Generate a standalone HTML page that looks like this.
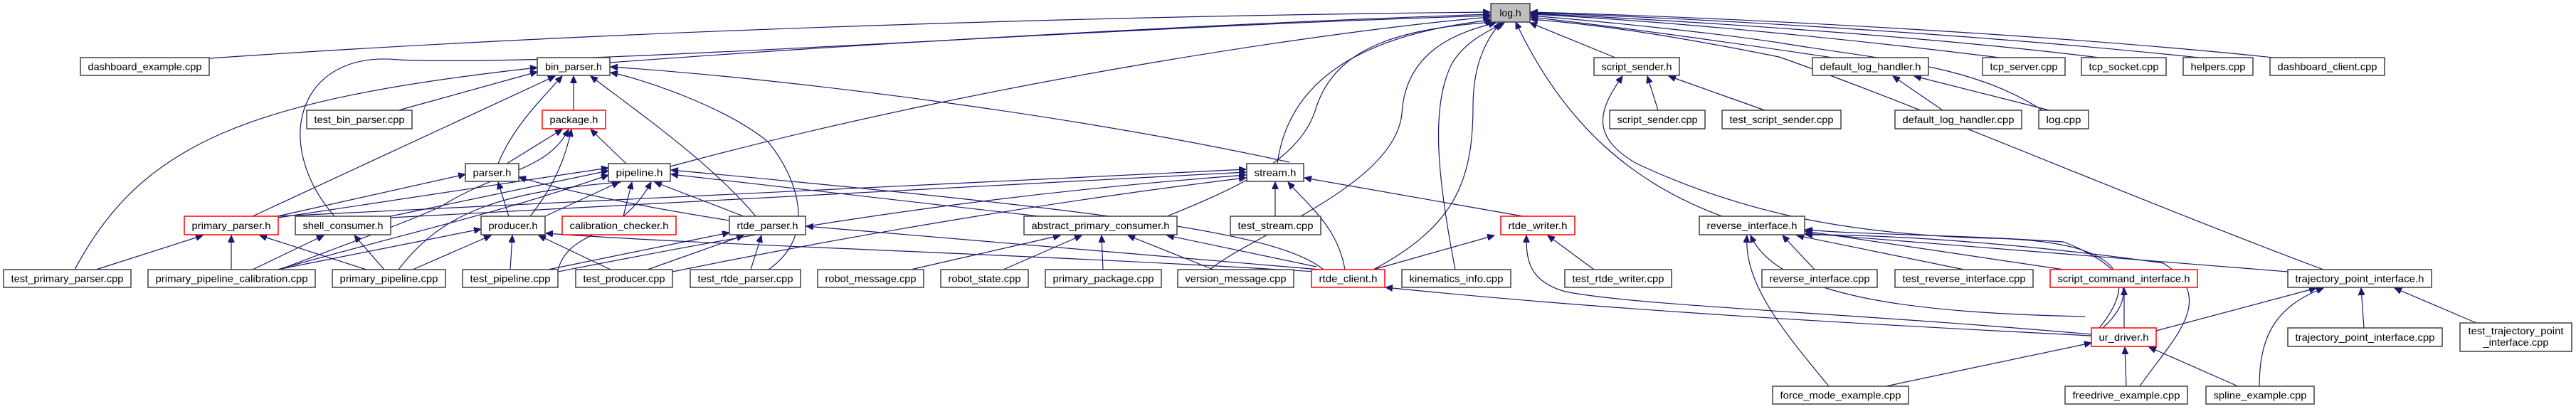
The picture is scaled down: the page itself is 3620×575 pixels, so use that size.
<!DOCTYPE html>
<html><head><meta charset="utf-8">
<style>
html,body{margin:0;padding:0;background:#fff;}
svg{display:block;}
.n rect{fill:#fff;stroke:#404040;stroke-width:1.5;}
.n.r rect{stroke:#ff0000;}
.n.g rect{fill:#bfbfbf;}
text{font-family:"Liberation Sans",sans-serif;font-size:14px;fill:#000;}
.e path{fill:none;stroke:#191970;stroke-width:1.2;}
</style></head>
<body>
<svg width="3620" height="575" viewBox="0 0 3620 575" xmlns="http://www.w3.org/2000/svg">
<defs>
<marker id="a" markerUnits="userSpaceOnUse" markerWidth="11" markerHeight="9" refX="10" refY="4.5" orient="auto">
<path d="M0,0 L10,4.5 L0,9 z" fill="#191970" stroke="#191970"/>
</marker>
</defs>
<g class="e" marker-end="url(#a)">
<!-- to log.h -->
<path d="M294,82 C900,40 1600,22 2094,17" marker-end="url(#a)"/>
<path d="M857,88 C1300,55 1800,30 2094,20" marker-end="url(#a)"/>
<path d="M942,234 C1400,110 1900,40 2094,24" marker-end="url(#a)"/>
<path d="M470,304 C380,200 420,70 560,84 C800,95 1500,40 2094,22" marker-end="url(#a)"/>
<path d="M1795,230 C1810,120 1900,50 2096,28" marker-end="url(#a)"/>
<path d="M1640,304 C1750,260 1830,220 1850,150 C1880,60 1980,40 2098,31" marker-end="url(#a)"/>
<path d="M1700,379 C1760,330 1960,260 1970,160 C1975,70 2050,45 2102,32" marker-end="url(#a)"/>
<path d="M1930,379 C2040,320 2070,260 2070,150 C2070,80 2095,50 2108,32" marker-end="url(#a)"/>
<path d="M2045,379 C2020,250 2010,150 2040,90 C2060,55 2100,40 2114,32" marker-end="url(#a)"/>
<path d="M2420,304 C2300,260 2200,180 2130,31" marker-end="url(#a)"/>
<path d="M2270,81 L2150,32" marker-end="url(#a)"/>
<path d="M2575,81 C2400,55 2250,35 2151,24" marker-end="url(#a)"/>
<path d="M2870,155 C2770,90 2650,85 2500,60 C2400,45 2250,30 2151,22" marker-end="url(#a)"/>
<path d="M2810,81 C2600,55 2350,30 2151,20" marker-end="url(#a)"/>
<path d="M2950,81 C2700,50 2350,28 2151,19" marker-end="url(#a)"/>
<path d="M3090,81 C2800,50 2400,26 2151,18" marker-end="url(#a)"/>
<path d="M3195,81 C2900,50 2450,25 2151,17" marker-end="url(#a)"/>
<path d="M3265,379 C3000,280 2700,150 2500,80 C2350,50 2250,35 2151,27" marker-end="url(#a)"/>
<!-- to bin_parser.h -->
<path d="M560,155 L755,101"/>
<path d="M806,155 L806,107"/>
<path d="M700,230 C720,180 760,140 790,107"/>
<path d="M355,304 L780,107"/>
<path d="M105,379 C200,200 350,140 755,95"/>
<path d="M1062,304 C1000,230 900,160 830,107"/>
<path d="M1080,379 C1150,330 1120,250 1080,200 C1020,150 900,110 858,102"/>
<path d="M1812,228 C1500,160 1100,110 858,94"/>
<!-- to package.h -->
<path d="M712,230 L790,182"/>
<path d="M880,230 L830,182"/>
<path d="M745,304 C780,260 795,220 803,182"/>
<path d="M390,380 C550,320 600,300 620,290 C700,240 770,240 799,182"/>
<!-- to parser.h -->
<path d="M390,304 L654,245"/>
<path d="M715,304 L700,256"/>
<path d="M1025,310 C900,290 800,270 729,249"/>
<!-- to pipeline.h -->
<path d="M391,306 L855,236"/>
<path d="M549,304 L855,240"/>
<path d="M766,304 L870,256"/>
<path d="M876,304 L888,256"/>
<path d="M1045,304 L920,256"/>
<path d="M390,379 C600,320 700,300 855,246"/>
<path d="M560,379 C620,300 700,270 872,256"/>
<path d="M784,380 C800,320 870,340 915,256"/>
<path d="M1460,304 L943,245"/>
<path d="M1860,379 C1800,330 1600,300 943,239"/>
<!-- to stream.h -->
<path d="M391,304 L1751,238"/>
<path d="M549,306 L1751,242"/>
<path d="M784,382 C1000,340 1300,280 1751,246"/>
<path d="M945,382 C1200,330 1500,280 1751,250"/>
<path d="M1792,304 L1792,256"/>
<path d="M1890,379 C1880,320 1840,290 1810,256"/>
<path d="M2140,304 L1833,250"/>
<!-- to producer.h -->
<path d="M390,379 L676,322"/>
<path d="M580,379 L690,331"/>
<path d="M717,379 L720,331"/>
<path d="M858,379 L757,331"/>
<path d="M1850,382 C1400,355 1000,345 767,328"/>
<!-- to primary_parser.h -->
<path d="M135,379 L285,331"/>
<path d="M325,379 L325,331"/>
<path d="M515,379 L365,331"/>
<!-- to shell_consumer.h -->
<path d="M355,379 L455,331"/>
<path d="M540,379 L498,331"/>
<!-- to rtde_parser.h -->
<path d="M770,379 L1025,327"/>
<path d="M910,379 L1045,331"/>
<path d="M1055,379 L1070,331"/>
<path d="M1855,379 C1500,350 1300,330 1133,318"/>
<!-- to abstract_primary_consumer.h -->
<path d="M1280,379 L1490,331"/>
<path d="M1410,379 L1520,331"/>
<path d="M1550,379 L1548,331"/>
<path d="M1705,379 L1585,331"/>
<path d="M1850,375 L1640,331"/>
<!-- to rtde_writer.h -->
<path d="M1930,379 L2100,331"/>
<path d="M2240,379 L2175,331"/>
<path d="M2939,470 C2600,440 2300,430 2200,410 C2145,395 2145,360 2145,331"/>
<!-- to rtde_client.h -->
<path d="M2939,472 C2500,450 2200,430 1947,404"/>
<!-- to script_sender.h -->
<path d="M2330,155 L2315,107"/>
<path d="M2480,155 L2345,107"/>
<path d="M2950,461 C3000,400 3000,340 2800,335 C2600,330 2450,300 2300,230 C2230,190 2250,150 2280,107"/>
<!-- to default_log_handler.h -->
<path d="M2730,155 L2660,107"/>
<path d="M2880,155 L2690,107"/>
<!-- to reverse_interface.h -->
<path d="M2550,379 L2505,331"/>
<path d="M2760,379 L2525,331"/>
<path d="M2900,379 L2537,325"/>
<path d="M3215,382 L2537,328"/>
<path d="M2955,461 C3000,420 3000,380 2900,340 C2750,330 2620,330 2537,323"/>
<path d="M2570,543 C2510,470 2450,400 2455,331"/>
<path d="M3007,543 C3050,480 3120,420 3040,370 C2900,350 2700,330 2537,330"/>
<path d="M2930,445 C2700,440 2500,420 2460,331"/>
<!-- to script_command_interface.h -->
<path d="M2985,461 L2985,405"/>
<!-- to trajectory_point_interface.h -->
<path d="M3030,465 L3255,405"/>
<path d="M3322,461 L3318,405"/>
<path d="M3480,454 L3365,405"/>
<path d="M3175,543 C3175,470 3200,430 3265,405"/>
<!-- to ur_driver.h -->
<path d="M2650,543 L2939,482"/>
<path d="M2988,543 L2986,488"/>
<path d="M3145,543 L3020,488"/>
</g>

<g class="n g"><rect x="2095" y="5" width="55" height="26"/><text x="2122.5" y="23" text-anchor="middle">log.h</text></g>

<g class="n"><rect x="113" y="81" width="181" height="25"/><text x="203.5" y="98.5" text-anchor="middle" textLength="160" lengthAdjust="spacingAndGlyphs">dashboard_example.cpp</text></g>
<g class="n"><rect x="755" y="81" width="102" height="25"/><text x="806" y="98.5" text-anchor="middle" textLength="80" lengthAdjust="spacingAndGlyphs">bin_parser.h</text></g>
<g class="n"><rect x="2240" y="81" width="120" height="25"/><text x="2300" y="98.5" text-anchor="middle" textLength="99" lengthAdjust="spacingAndGlyphs">script_sender.h</text></g>
<g class="n"><rect x="2547" y="81" width="163" height="25"/><text x="2628.5" y="98.5" text-anchor="middle" textLength="142" lengthAdjust="spacingAndGlyphs">default_log_handler.h</text></g>
<g class="n"><rect x="2786" y="81" width="116" height="25"/><text x="2844" y="98.5" text-anchor="middle" textLength="95" lengthAdjust="spacingAndGlyphs">tcp_server.cpp</text></g>
<g class="n"><rect x="2925" y="81" width="119" height="25"/><text x="2984.5" y="98.5" text-anchor="middle" textLength="98" lengthAdjust="spacingAndGlyphs">tcp_socket.cpp</text></g>
<g class="n"><rect x="3068" y="81" width="98" height="25"/><text x="3117" y="98.5" text-anchor="middle" textLength="77" lengthAdjust="spacingAndGlyphs">helpers.cpp</text></g>
<g class="n"><rect x="3190" y="81" width="161" height="25"/><text x="3270.5" y="98.5" text-anchor="middle" textLength="140" lengthAdjust="spacingAndGlyphs">dashboard_client.cpp</text></g>

<g class="n"><rect x="431" y="155" width="148" height="26"/><text x="505" y="173" text-anchor="middle" textLength="127" lengthAdjust="spacingAndGlyphs">test_bin_parser.cpp</text></g>
<g class="n r"><rect x="762" y="155" width="89" height="26"/><text x="806.5" y="173" text-anchor="middle" textLength="68" lengthAdjust="spacingAndGlyphs">package.h</text></g>
<g class="n"><rect x="2262" y="155" width="134" height="26"/><text x="2329" y="173" text-anchor="middle" textLength="113" lengthAdjust="spacingAndGlyphs">script_sender.cpp</text></g>
<g class="n"><rect x="2420" y="155" width="167" height="26"/><text x="2503.5" y="173" text-anchor="middle" textLength="146" lengthAdjust="spacingAndGlyphs">test_script_sender.cpp</text></g>
<g class="n"><rect x="2663" y="155" width="178" height="26"/><text x="2752" y="173" text-anchor="middle" textLength="157" lengthAdjust="spacingAndGlyphs">default_log_handler.cpp</text></g>
<g class="n"><rect x="2865" y="155" width="70" height="26"/><text x="2900" y="173" text-anchor="middle" textLength="49" lengthAdjust="spacingAndGlyphs">log.cpp</text></g>

<g class="n"><rect x="654" y="230" width="75" height="25"/><text x="691.5" y="247.5" text-anchor="middle" textLength="54" lengthAdjust="spacingAndGlyphs">parser.h</text></g>
<g class="n"><rect x="855" y="230" width="87" height="25"/><text x="898.5" y="247.5" text-anchor="middle" textLength="66" lengthAdjust="spacingAndGlyphs">pipeline.h</text></g>
<g class="n"><rect x="1752" y="230" width="80" height="25"/><text x="1792" y="247.5" text-anchor="middle" textLength="59" lengthAdjust="spacingAndGlyphs">stream.h</text></g>

<g class="n r"><rect x="259" y="304" width="132" height="26"/><text x="325" y="322" text-anchor="middle" textLength="111" lengthAdjust="spacingAndGlyphs">primary_parser.h</text></g>
<g class="n"><rect x="415" y="304" width="134" height="26"/><text x="482" y="322" text-anchor="middle" textLength="113" lengthAdjust="spacingAndGlyphs">shell_consumer.h</text></g>
<g class="n"><rect x="676" y="304" width="90" height="26"/><text x="721" y="322" text-anchor="middle" textLength="69" lengthAdjust="spacingAndGlyphs">producer.h</text></g>
<g class="n r"><rect x="790" y="304" width="160" height="26"/><text x="870" y="322" text-anchor="middle" textLength="139" lengthAdjust="spacingAndGlyphs">calibration_checker.h</text></g>
<g class="n"><rect x="1025" y="304" width="107" height="26"/><text x="1078.5" y="322" text-anchor="middle" textLength="86" lengthAdjust="spacingAndGlyphs">rtde_parser.h</text></g>
<g class="n"><rect x="1439" y="304" width="215" height="26"/><text x="1546.5" y="322" text-anchor="middle" textLength="194" lengthAdjust="spacingAndGlyphs">abstract_primary_consumer.h</text></g>
<g class="n"><rect x="1729" y="304" width="127" height="26"/><text x="1792.5" y="322" text-anchor="middle" textLength="106" lengthAdjust="spacingAndGlyphs">test_stream.cpp</text></g>
<g class="n r"><rect x="2109" y="304" width="104" height="26"/><text x="2161" y="322" text-anchor="middle" textLength="83" lengthAdjust="spacingAndGlyphs">rtde_writer.h</text></g>
<g class="n"><rect x="2388" y="304" width="148" height="26"/><text x="2462" y="322" text-anchor="middle" textLength="127" lengthAdjust="spacingAndGlyphs">reverse_interface.h</text></g>

<g class="n"><rect x="5" y="379" width="179" height="25"/><text x="94.5" y="396.5" text-anchor="middle" textLength="158" lengthAdjust="spacingAndGlyphs">test_primary_parser.cpp</text></g>
<g class="n"><rect x="208" y="379" width="235" height="25"/><text x="325.5" y="396.5" text-anchor="middle" textLength="214" lengthAdjust="spacingAndGlyphs">primary_pipeline_calibration.cpp</text></g>
<g class="n"><rect x="467" y="379" width="159" height="25"/><text x="546.5" y="396.5" text-anchor="middle" textLength="138" lengthAdjust="spacingAndGlyphs">primary_pipeline.cpp</text></g>
<g class="n"><rect x="650" y="379" width="134" height="25"/><text x="717" y="396.5" text-anchor="middle" textLength="113" lengthAdjust="spacingAndGlyphs">test_pipeline.cpp</text></g>
<g class="n"><rect x="809" y="379" width="136" height="25"/><text x="877" y="396.5" text-anchor="middle" textLength="115" lengthAdjust="spacingAndGlyphs">test_producer.cpp</text></g>
<g class="n"><rect x="970" y="379" width="155" height="25"/><text x="1047.5" y="396.5" text-anchor="middle" textLength="134" lengthAdjust="spacingAndGlyphs">test_rtde_parser.cpp</text></g>
<g class="n"><rect x="1149" y="379" width="149" height="25"/><text x="1223.5" y="396.5" text-anchor="middle" textLength="128" lengthAdjust="spacingAndGlyphs">robot_message.cpp</text></g>
<g class="n"><rect x="1322" y="379" width="123" height="25"/><text x="1383.5" y="396.5" text-anchor="middle" textLength="102" lengthAdjust="spacingAndGlyphs">robot_state.cpp</text></g>
<g class="n"><rect x="1469" y="379" width="163" height="25"/><text x="1550.5" y="396.5" text-anchor="middle" textLength="142" lengthAdjust="spacingAndGlyphs">primary_package.cpp</text></g>
<g class="n"><rect x="1655" y="379" width="163" height="25"/><text x="1736.5" y="396.5" text-anchor="middle" textLength="142" lengthAdjust="spacingAndGlyphs">version_message.cpp</text></g>
<g class="n r"><rect x="1843" y="379" width="103" height="25"/><text x="1894.5" y="396.5" text-anchor="middle" textLength="82" lengthAdjust="spacingAndGlyphs">rtde_client.h</text></g>
<g class="n"><rect x="1970" y="379" width="153" height="25"/><text x="2046.5" y="396.5" text-anchor="middle" textLength="132" lengthAdjust="spacingAndGlyphs">kinematics_info.cpp</text></g>
<g class="n"><rect x="2199" y="379" width="150" height="25"/><text x="2274" y="396.5" text-anchor="middle" textLength="129" lengthAdjust="spacingAndGlyphs">test_rtde_writer.cpp</text></g>
<g class="n"><rect x="2476" y="379" width="162" height="25"/><text x="2557" y="396.5" text-anchor="middle" textLength="141" lengthAdjust="spacingAndGlyphs">reverse_interface.cpp</text></g>
<g class="n"><rect x="2663" y="379" width="194" height="25"/><text x="2760" y="396.5" text-anchor="middle" textLength="173" lengthAdjust="spacingAndGlyphs">test_reverse_interface.cpp</text></g>
<g class="n r"><rect x="2881" y="379" width="207" height="25"/><text x="2984.5" y="396.5" text-anchor="middle" textLength="186" lengthAdjust="spacingAndGlyphs">script_command_interface.h</text></g>
<g class="n"><rect x="3215" y="379" width="202" height="25"/><text x="3316" y="396.5" text-anchor="middle" textLength="181" lengthAdjust="spacingAndGlyphs">trajectory_point_interface.h</text></g>

<g class="n r"><rect x="2939" y="461" width="91" height="26"/><text x="2984.5" y="479" text-anchor="middle" textLength="70" lengthAdjust="spacingAndGlyphs">ur_driver.h</text></g>
<g class="n"><rect x="3215" y="461" width="217" height="26"/><text x="3323.5" y="479" text-anchor="middle" textLength="196" lengthAdjust="spacingAndGlyphs">trajectory_point_interface.cpp</text></g>
<g class="n"><rect x="3457" y="454" width="157" height="40"/><text x="3535.5" y="470" text-anchor="middle" textLength="134" lengthAdjust="spacingAndGlyphs">test_trajectory_point</text><text x="3535.5" y="486" text-anchor="middle" textLength="92" lengthAdjust="spacingAndGlyphs">_interface.cpp</text></g>

<g class="n"><rect x="2491" y="543" width="191" height="25"/><text x="2586.5" y="560.5" text-anchor="middle" textLength="170" lengthAdjust="spacingAndGlyphs">force_mode_example.cpp</text></g>
<g class="n"><rect x="2902" y="543" width="172" height="25"/><text x="2988" y="560.5" text-anchor="middle" textLength="151" lengthAdjust="spacingAndGlyphs">freedrive_example.cpp</text></g>
<g class="n"><rect x="3100" y="543" width="152" height="25"/><text x="3176" y="560.5" text-anchor="middle" textLength="131" lengthAdjust="spacingAndGlyphs">spline_example.cpp</text></g>
</svg>
</body></html>
